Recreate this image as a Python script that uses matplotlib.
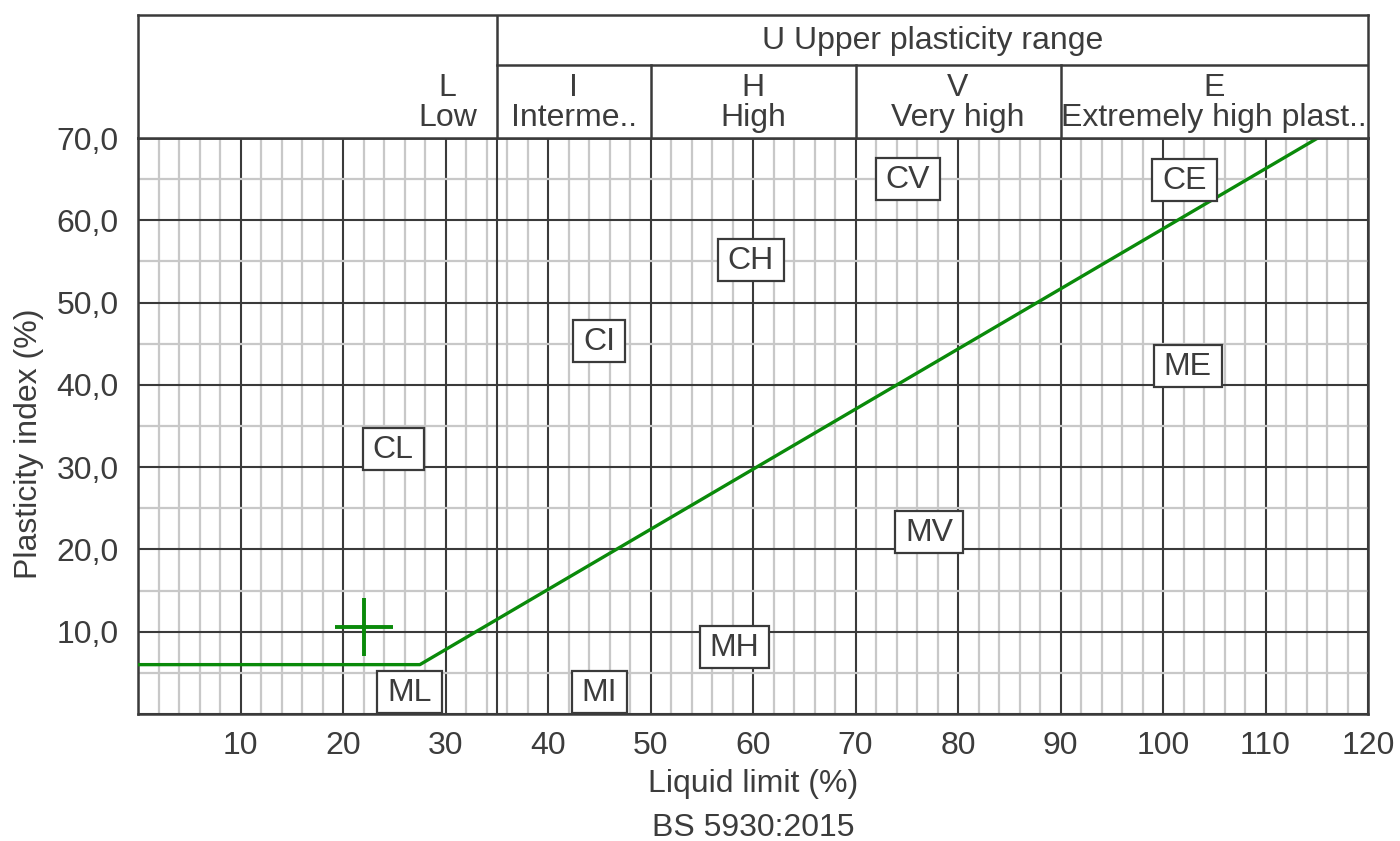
import matplotlib
matplotlib.use("Agg")
import matplotlib.pyplot as plt
from matplotlib.ticker import MultipleLocator
from matplotlib.patches import Rectangle

plt.rcParams['font.family'] = ['Liberation Sans', 'DejaVu Sans']

# ---- data ----
x_ticks = [0, 10, 20, 30, 40, 50, 60, 70, 80, 90, 100, 110, 120]
x_ticklabels = [''] + [str(v) for v in x_ticks[1:]]
y_ticks = [0, 10, 20, 30, 40, 50, 60, 70]
y_ticklabels = [''] + ['%d,0' % v for v in y_ticks[1:]]

a_line_x = [0, 27.5, 115.1]
a_line_y = [6, 6, 70]

sample_x = [22.0]
sample_y = [10.6]

zone_labels = ['CL', 'ML', 'CI', 'MI', 'CH', 'MH', 'CV', 'MV', 'CE', 'ME']
zone_x = [24.9, 26.5, 45.0, 45.0, 59.8, 58.2, 75.1, 77.2, 102.1, 102.4]
zone_y = [32.1, 2.6, 45.2, 2.6, 55.0, 8.0, 64.9, 22.0, 64.8, 42.2]

range_letters = ['L', 'I', 'H', 'V', 'E']
range_names = ['Low', 'Interme..', 'High', 'Very high', 'Extremely high plast..']
range_centers = [30.2, 42.5, 60, 80, 105]
range_bounds = [35, 50, 70, 90]

TXT = '#3c3c3c'
DARK = '#3a3a3a'
FS = 23

fig = plt.figure(figsize=(14, 8.41), dpi=100)
ax = fig.add_axes([138/1400, 127/841, 1230/1400, 576/841])
ax.set_xlim(0, 120)
ax.set_ylim(0, 70)

ax.set_xticks(x_ticks)
ax.set_xticklabels(x_ticklabels)
ax.set_yticks(y_ticks)
ax.set_yticklabels(y_ticklabels)
ax.xaxis.set_minor_locator(MultipleLocator(2))
ax.yaxis.set_minor_locator(MultipleLocator(5))
ax.tick_params(which='both', length=0)
ax.tick_params(axis='x', pad=12, labelsize=FS, labelcolor=TXT)
ax.tick_params(axis='y', pad=14, labelsize=FS, labelcolor=TXT)
ax.grid(which='minor', color='#c8c8c8', linewidth=1.6, zorder=0)
ax.grid(which='major', color=DARK, linewidth=1.5, zorder=1)
ax.set_axisbelow(True)
ax.axvline(35, color=DARK, linewidth=1.5, zorder=1)
for s in ax.spines.values():
    s.set_color(DARK)
    s.set_linewidth(1.8)

ax.plot(a_line_x, a_line_y, color='#0a8a0a', linewidth=2.4, zorder=3)
ax.plot(sample_x, sample_y, marker='+', markersize=42, markeredgewidth=2.8,
        color='#0a8a0a', linestyle='none', zorder=4)

texts = []
for lab, zx, zy in zip(zone_labels, zone_x, zone_y):
    t = ax.text(zx, zy, lab, ha='center', va='center', fontsize=FS, color=TXT, zorder=6)
    texts.append(t)

ax.set_xlabel('Liquid limit (%)', fontsize=FS, color=TXT, labelpad=6)
fig.text(29/1400, 1 - 444/841, 'Plasticity index (%)', rotation=90, ha='center', va='center',
         fontsize=FS, color=TXT)
fig.text(753/1400, 1 - 828/841, 'BS 5930:2015', ha='center', va='center', fontsize=FS, color=TXT)

# ---- header ----
hx = fig.add_axes([138/1400, 703/841, 1230/1400, 123/841])
hx.set_xlim(0, 120)
hx.set_ylim(0, 1)
hx.set_xticks([])
hx.set_yticks([])
for s in hx.spines.values():
    s.set_color(DARK)
    s.set_linewidth(1.8)
row = (138 - 65) / 123
hx.plot([35, 120], [row, row], color=DARK, linewidth=1.8)
hx.plot([35, 35], [0, 1], color=DARK, linewidth=1.8)
for b in range_bounds[1:]:
    hx.plot([b, b], [0, row], color=DARK, linewidth=1.8)
hx.text(77.5, (138 - 41) / 123, 'U Upper plasticity range', ha='center', va='center',
        fontsize=FS, color=TXT)
for L, N, c in zip(range_letters, range_names, range_centers):
    hx.text(c, (138 - 88) / 123, L, ha='center', va='center', fontsize=FS, color=TXT)
    hx.text(c, (138 - 118) / 123, N, ha='center', va='center', fontsize=FS, color=TXT)

# boxes around zone labels, sized from the rendered text
fig.canvas.draw()
renderer = fig.canvas.get_renderer()
inv = ax.transData.inverted()
for t in texts:
    bb = t.get_window_extent(renderer)
    cx, cy = ax.transData.transform((t.get_position()))
    w = bb.width + 20
    h = 42
    (x0, y0) = inv.transform((cx - w / 2, cy - h / 2 + 1))
    (x1, y1) = inv.transform((cx + w / 2, cy + h / 2 + 1))
    ax.add_patch(Rectangle((x0, y0), x1 - x0, y1 - y0, facecolor='white',
                           edgecolor=DARK, linewidth=1.6, zorder=5))

fig.savefig('out.png', dpi=100)
